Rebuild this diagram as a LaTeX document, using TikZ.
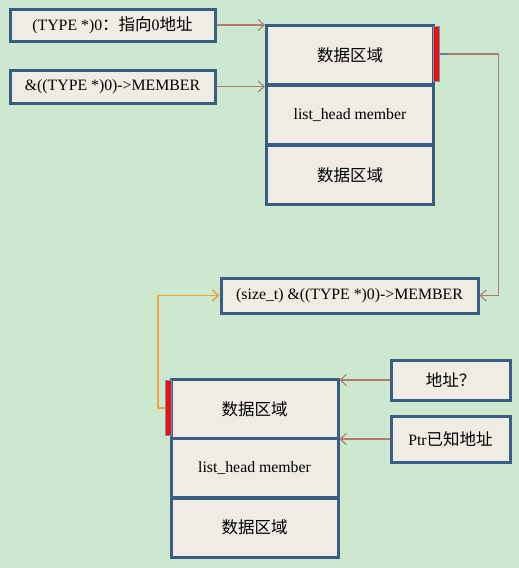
\documentclass[tikz,border=0pt]{standalone}
\usepackage{fontspec}
\setmainfont{Liberation Serif}
\newfontfamily\cjk{Noto Sans CJK SC}
\newcommand\zh[1]{{\cjk\fontsize{16.5}{18}\selectfont #1}}
\usetikzlibrary{arrows.meta}

\definecolor{bggreen}{HTML}{CCE8CF}
\definecolor{paper}{HTML}{EFECE4}
\definecolor{frameblue}{HTML}{3A5D86}
\definecolor{linkbrown}{HTML}{B47A6C}
\definecolor{linkorange}{HTML}{F4A040}
\definecolor{markred}{HTML}{EE1111}

\begin{document}
\begin{tikzpicture}[x=1pt, y=-1pt,
	every node/.style={font=\fontsize{15.8}{18}\selectfont, inner sep=0pt},
	box/.style={draw=frameblue, line width=3pt, fill=paper, minimum width=#1},
	box/.default=205pt,
	cell/.style={draw=frameblue, line width=3pt, fill=paper, minimum width=167pt, minimum height=59pt},
	markbar/.style={fill=markred, draw=frameblue!70, line width=0.6pt, minimum width=6pt, minimum height=55pt},
	link/.style={draw=linkbrown, line width=1.1pt, -{Straight Barb[length=6pt,width=11pt]}},
	backlink/.style={link, draw=linkorange, line width=1.5pt}]
	\fill[bggreen] (0,0) rectangle (519,568);
	\node[box, minimum height=32pt] (type0) at (112.5,25) {(TYPE *)0\zh{：指向}0\zh{地址}};
	\node[box, minimum height=33pt] (member) at (112.5,86.5) {\&((TYPE *)0)->MEMBER};
	\foreach \y/\t/\n in {55/{\zh{数据区域}}/A, 115/{list\_head member}/B, 175/{\zh{数据区域}}/C} {
		\node[cell] (top\n) at (350,\y) {\t};
	}
	\node[markbar] (markA) at (436.5,54) {};
	\node[box=257pt, minimum height=35pt] (offset) at (349.5,295.5) {(size\_t) \&((TYPE *)0)->MEMBER};
	\foreach \y/\t/\n in {409/{\zh{数据区域}}/A, 468/{list\_head member}/B, 527.5/{\zh{数据区域}}/C} {
		\node[cell] (low\n) at (254.5,\y) {\t};
	}
	\node[markbar] (markB) at (168.5,408) {};
	\node[box=119pt, minimum height=40pt] (addr) at (450.5,380) {\zh{地址？}};
	\node[box=119pt, minimum height=46pt] (ptr) at (450.5,439) {Ptr\zh{已知地址}};
	\draw[link] (type0.east) -- (type0.east -| topA.west);
	\draw[link] (member.east) -- (member.east -| topB.west);
	\draw[frameblue!80, line width=2pt] (markA.east) -- ++(7,0) coordinate (stub);
	\draw[link] (stub) -- ++(52,0) |- (offset.east);
	\draw[backlink] (markB.west) -- ++(-7,0) |- (offset.west);
	\draw[link] (addr.west) -- (addr.west -| lowA.east);
	\draw[link] (ptr.west) -- (ptr.west -| lowB.east);
\end{tikzpicture}
\end{document}
